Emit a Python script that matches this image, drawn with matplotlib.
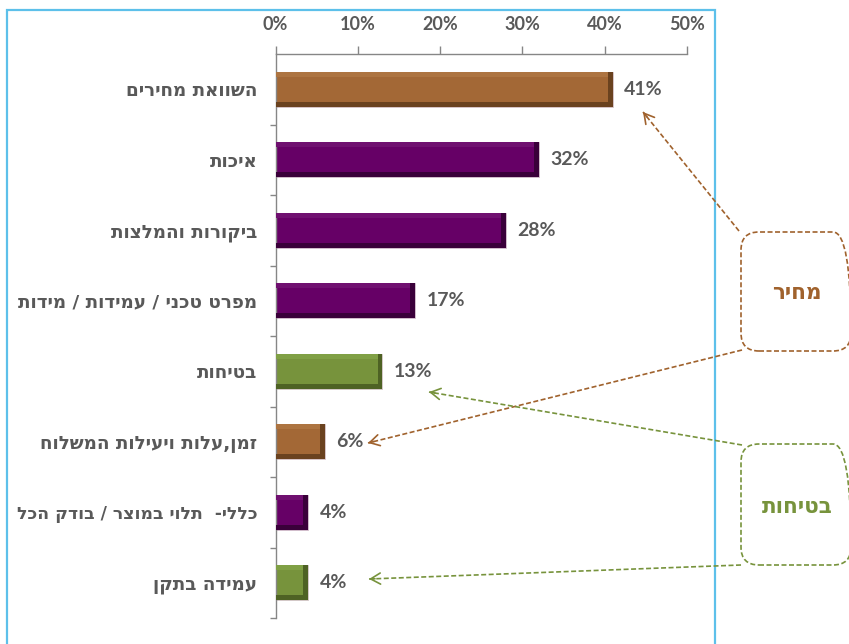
import matplotlib.pyplot as plt
from matplotlib.patches import FancyBboxPatch, Rectangle
import numpy as np

plt.rcParams["font.family"] = ["Lato", "DejaVu Sans"]

# Survey answers, top to bottom
categories = [
    "השוואת מחירים",
    "איכות",
    "ביקורות והמלצות",
    "מפרט טכני / עמידות / מידות",
    "בטיחות",
    "זמן,עלות ויעילות המשלוח",
    "כללי-  תלוי במוצר / בודק הכל",
    "עמידה בתקן",
]
values = [41, 32, 28, 17, 13, 6, 4, 4]
groups = ["price", "other", "other", "other", "safety", "price", "other", "safety"]
xticks = [0, 10, 20, 30, 40, 50]

# main / shadow / highlight colour per group
palette = {
    "price": ("#A36836", "#6A421F", "#AD7441"),
    "other": ("#660066", "#3A003A", "#701070"),
    "safety": ("#77933C", "#4E6224", "#80A045"),
}

W, H = 849, 644
TEXT = "#595959"
HEB = ["DejaVu Sans"]


def rtl(s):
    # matplotlib has no bidi support: lay Hebrew out in visual order
    return s[::-1]


def fpx(x, y):
    # pixel position (origin top-left) -> figure fraction
    return (x / W, 1 - y / H)


fig = plt.figure(figsize=(W / 100, H / 100), dpi=100)
left, right, top, bottom = 275.5, 687, 54, 618
ax = fig.add_axes([left / W, 1 - bottom / H, (right - left) / W, (bottom - top) / H])

y = np.arange(len(values))
vals = np.array(values, dtype=float)
h = 0.5
s = 0.07
for i, (v, g) in enumerate(zip(vals, groups)):
    main, dark, light = palette[g]
    ax.barh(i, v, height=h, color=main, edgecolor="#D8C8D0", linewidth=0.6, zorder=2)
    # bevel: highlight on top, shadow at the bottom and at the bar end
    ax.barh(i - h / 2 + s / 2, v, height=s, color=light, zorder=3)
    ax.barh(i + h / 2 - s / 2, v, height=s, color=dark, zorder=3)
    ax.barh(i, 0.6, left=v - 0.6, height=h, color=dark, zorder=3)
    ax.annotate(f"{values[i]}%", xy=(v, i), xytext=(8, 0), textcoords="offset points",
                ha="left", va="center", fontsize=14, fontweight="bold", color=TEXT)

ax.set_xlim(0, 50)
ax.set_ylim(len(values) - 0.5, -0.5)
ax.xaxis.tick_top()
ax.set_xticks(xticks)
ax.set_xticklabels([f"{t}%" for t in xticks])
ax.tick_params(axis="x", direction="out", length=6, width=1, color="#868686",
               pad=9, labelsize=13, labelcolor=TEXT)
for lbl in ax.get_xticklabels():
    lbl.set_fontweight("bold")

ax.set_yticks(y)
ax.set_yticklabels([rtl(c) for c in categories])
ax.set_yticks(list(y[:-1] + 0.5) + [len(values) - 0.5], minor=True)
ax.tick_params(axis="y", which="major", length=0, pad=13, labelsize=13.2, labelcolor=TEXT)
ax.tick_params(axis="y", which="minor", direction="out", length=4, width=1, color="#868686")
for lbl in ax.get_yticklabels():
    lbl.set_fontweight("bold")
    lbl.set_family(HEB)
    # the longest label has to fit inside the frame
    if len(lbl.get_text()) > 26:
        lbl.set_fontsize(12.4)

for side in ("bottom", "right"):
    ax.spines[side].set_visible(False)
for side in ("top", "left"):
    ax.spines[side].set_color("#868686")
    ax.spines[side].set_linewidth(1)

# light blue chart-area frame
fig.patches.append(Rectangle(fpx(7, 700), 708 / W, 690 / H, transform=fig.transFigure,
                             fill=False, edgecolor="#5DC0EA", linewidth=1.6,
                             clip_on=False))

# callout boxes
callouts = [
    ("מחיר", "#A0622D", 232, 351, 293),
    ("בטיחות", "#77933C", 444, 565, 507),
]
for text, col, ytop, ybot, ytext in callouts:
    x0, y0 = fpx(741, ybot)
    fig.patches.append(FancyBboxPatch(
        (x0, y0), (851 - 741) / W, (ybot - ytop) / H,
        boxstyle=f"round,pad=0,rounding_size={18 / W}", transform=fig.transFigure,
        fill=False, edgecolor=col, linestyle=(0, (3, 1.5)), linewidth=1.2,
        mutation_aspect=W / H))
    fig.text(*fpx(797, ytext), rtl(text), ha="center", va="center", fontsize=15.5,
             fontweight="bold", color=col, family=HEB)

# dashed pointers from the callouts to the labels
arrows = [
    ("#A0622D", (739, 231), (643, 112)),
    ("#A0622D", (742, 350), (368, 443)),
    ("#77933C", (742, 445), (429, 392)),
    ("#77933C", (741, 565), (369, 579)),
]
for col, start, end in arrows:
    fig.add_artist(plt.Line2D([start[0] / W, end[0] / W], [1 - start[1] / H, 1 - end[1] / H],
                              transform=fig.transFigure, color=col, linewidth=1.2,
                              linestyle=(0, (3, 1.5))))
    d = np.array(end, float) - np.array(start, float)
    d /= np.hypot(*d)
    tail = np.array(end) - 6 * d
    plt.annotate("", xy=fpx(*end), xytext=fpx(*tail), xycoords="figure fraction",
                 textcoords="figure fraction",
                 arrowprops=dict(arrowstyle="->,head_length=0.7,head_width=0.4",
                                 color=col, lw=1.2, shrinkA=0, shrinkB=0))

fig.savefig("out.png", dpi=100, facecolor="white")
